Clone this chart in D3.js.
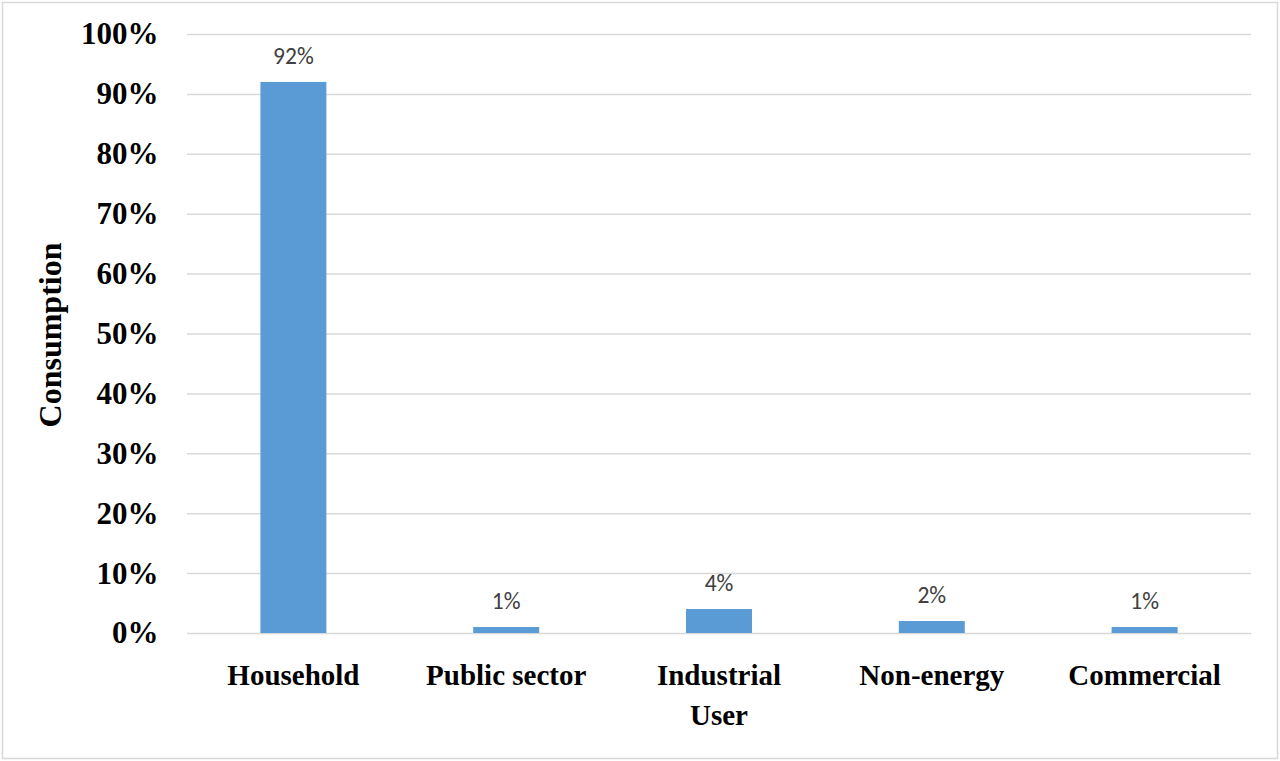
<!DOCTYPE html>
<html>
<head>
<meta charset="utf-8">
<script src="https://cdn.jsdelivr.net/npm/d3@7"></script>
<style>
  html, body { margin: 0; padding: 0; background: #fff; }
  svg { display: block; }
</style>
</head>
<body>
<svg id="chart" width="1280" height="761"></svg>
<script>
const categories = ["Household", "Public sector", "Industrial", "Non-energy", "Commercial"];
const values = [92, 1, 4, 2, 1];
const tickValues = [0, 10, 20, 30, 40, 50, 60, 70, 80, 90, 100];
const xTitle = "User";
const yTitle = "Consumption";

const svg = d3.select("#chart");
const W = 1280, H = 761;
const margin = { left: 187, right: 29, top: 34, bottom: 128 };
const serif = "'Liberation Serif', 'Times New Roman', serif";

svg.append("rect")
  .attr("x", 2.5).attr("y", 2.5)
  .attr("width", W - 5).attr("height", H - 5)
  .attr("fill", "#fff").attr("stroke", "#D9D9D9").attr("stroke-width", 1.5);

const x = d3.scaleBand()
  .domain(categories)
  .range([margin.left, W - margin.right])
  .paddingInner(0.69).paddingOuter(0.345);

const y = d3.scaleLinear().domain([0, 100]).range([H - margin.bottom, margin.top]);

// gridlines + tick labels
const yAxis = d3.axisLeft(y)
  .tickValues(tickValues)
  .tickSize(-(W - margin.left - margin.right))
  .tickFormat(d => d + "%")
  .tickPadding(28.5);

const gy = svg.append("g").attr("transform", `translate(${margin.left},0)`).call(yAxis);
gy.select(".domain").remove();
gy.selectAll(".tick line").attr("stroke", "#D9D9D9").attr("stroke-width", 1.5);
gy.selectAll(".tick text")
  .attr("font-family", serif)
  .attr("font-weight", "bold")
  .attr("font-size", 31)
  .attr("fill", "#000");

// bars
svg.append("g").selectAll("rect")
  .data(values)
  .join("rect")
  .attr("x", (d, i) => x(categories[i]))
  .attr("y", d => y(d))
  .attr("width", x.bandwidth())
  .attr("height", d => y(0) - y(d))
  .attr("fill", "#5B9BD5");

// data labels
svg.append("g").selectAll("text")
  .data(values)
  .join("text")
  .attr("x", (d, i) => x(categories[i]) + x.bandwidth() / 2)
  .attr("y", d => y(d) - 18)
  .attr("text-anchor", "middle")
  .attr("font-family", "Carlito, 'Open Sans', sans-serif")
  .attr("font-size", 23.5)
  .attr("fill", "#404040")
  .text(d => d + "%");

// x axis labels
const xAxis = d3.axisBottom(x).tickSize(0).tickPadding(31);
const gx = svg.append("g").attr("transform", `translate(0,${y(0)})`).call(xAxis);
gx.select(".domain").remove();
gx.selectAll(".tick text")
  .attr("font-family", serif)
  .attr("font-weight", "bold")
  .attr("font-size", 29)
  .attr("fill", "#000");

// axis titles
svg.append("text")
  .attr("x", (margin.left + W - margin.right) / 2)
  .attr("y", 725)
  .attr("text-anchor", "middle")
  .attr("font-family", serif)
  .attr("font-weight", "bold")
  .attr("font-size", 29)
  .text(xTitle);

svg.append("text")
  .attr("transform", `translate(61,335) rotate(-90)`)
  .attr("text-anchor", "middle")
  .attr("font-family", serif)
  .attr("font-weight", "bold")
  .attr("font-size", 32)
  .text(yTitle);
</script>
</body>
</html>
